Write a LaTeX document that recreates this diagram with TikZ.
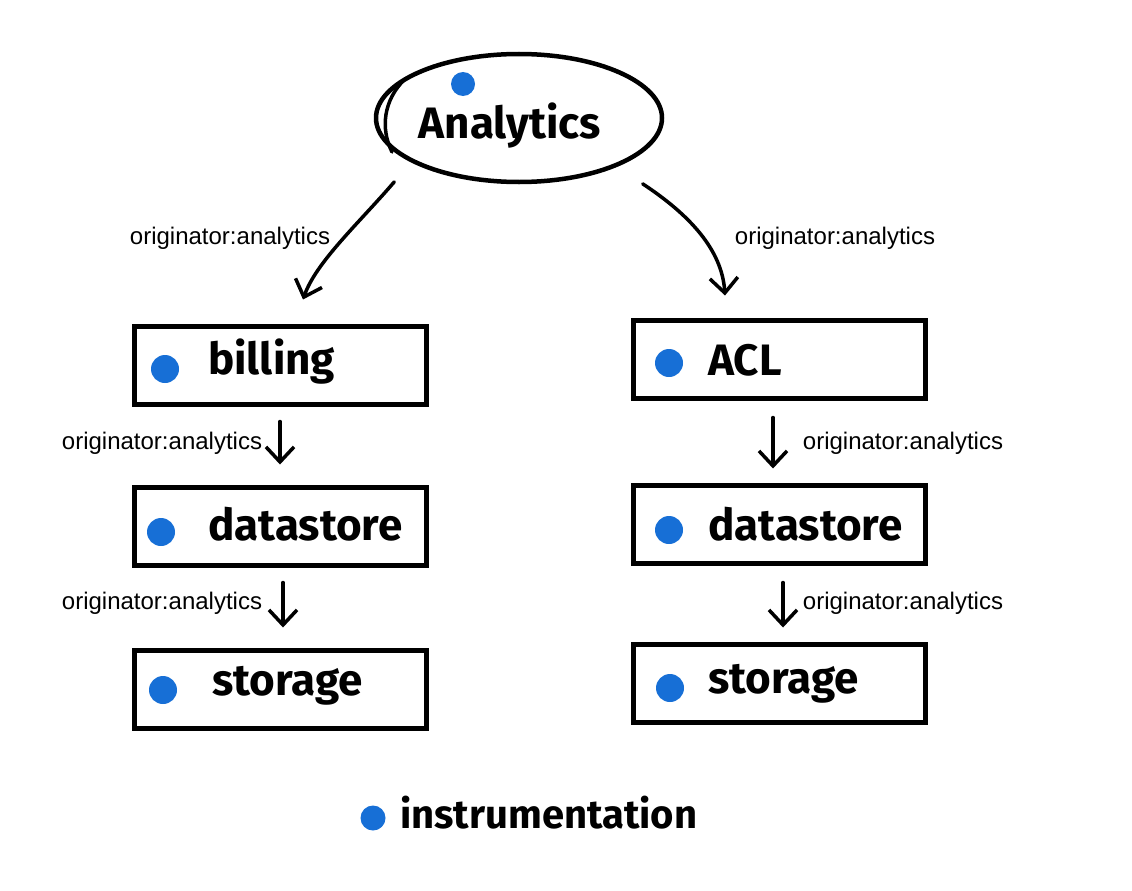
\documentclass[tikz,border=0pt]{standalone}
\usepackage{fontspec}
\setmainfont{Liberation Sans}
\newfontfamily\handfont{Fira Sans}
\usetikzlibrary{arrows.meta,shapes.geometric}
\definecolor{dotblue}{RGB}{23,111,214}
\tikzset{
  procbox/.style={draw=black, line width=5pt, minimum width=292pt, minimum height=78pt, inner sep=0pt},
  hand/.style={font=\handfont\bfseries\fontsize{44}{50}\selectfont, anchor=west, inner sep=0pt},
  lbl/.style={font=\fontsize{24}{28}\selectfont, inner sep=0pt},
  bluedot/.style={circle, fill=dotblue, minimum size=28pt, inner sep=0pt},
  arr/.style={line width=3.5pt, line cap=round, -{Straight Barb[length=15pt,width=28pt,line width=3.5pt]}},
}
\begin{document}
\begin{tikzpicture}[x=1pt,y=-1pt]
\useasboundingbox (0,0) rectangle (1132,891);
% Analytics ellipse
\node[ellipse, draw=black, line width=4.5pt, minimum width=286pt, minimum height=128pt, inner sep=0pt] (A) at (519,118) {};
\draw[line width=3.5pt, line cap=round] (392,152) .. controls (380,128) and (384,100) .. (404,80);
\node[bluedot, minimum size=24pt] (Adot) at (463,84) {};
\node[hand, anchor=center] (Atxt) at (510,126) {Analytics};

% left column boxes
\node[procbox] (b1) at (280,365) {};
\node[procbox] (b2) at (280,526) {};
\node[procbox] (b3) at (280,689) {};
% right column boxes
\node[procbox] (r1) at (779,359) {};
\node[procbox] (r2) at (779,524) {};
\node[procbox] (r3) at (779,683) {};

% dots
\node[bluedot] (d1) at (165,369) {};
\node[bluedot] (d2) at (161,532) {};
\node[bluedot] (d3) at (163,690) {};
\node[bluedot] (e1) at (669,363) {};
\node[bluedot] (e2) at (669,530) {};
\node[bluedot] (e3) at (670,688) {};

% box texts
\node[hand] (t1) at (208,362) {billing};
\node[hand] (t2) at (208,524) {datastore};
\node[hand] (t3) at (212,686) {storage};
\node[hand] (u1) at (708,360) {ACL};
\node[hand] (u2) at (708,524) {datastore};
\node[hand] (u3) at (708,684) {storage};

% curved arrows
\draw[arr] ([shift={(-22,17)}]A.south west) .. controls (360,222) and (316,262) .. ([shift={(23,-24)}]b1.north);
\draw[arr] ([shift={(21,19)}]A.south east) .. controls (690,215) and (722,250) .. ([shift={(-54,-22)}]r1.north);

% straight arrows
\draw[arr] ([shift={(0,15)}]b1.south) -- ([shift={(0,-20)}]b2.north);
\draw[arr] ([shift={(3,15)}]b2.south) -- ([shift={(3,-20)}]b3.north);
\draw[arr] ([shift={(-6,17)}]r1.south) -- ([shift={(-6,-14)}]r2.north);
\draw[arr] ([shift={(4,17)}]r2.south) -- ([shift={(4,-14)}]r3.north);

% labels
\node[lbl] (l0) at (230,238) {originator:analytics};
\node[lbl] (l1) at (162,443) {originator:analytics};
\node[lbl] (l2) at (162,603) {originator:analytics};
\node[lbl] (m0) at (835,238) {originator:analytics};
\node[lbl] (m1) at (903,443) {originator:analytics};
\node[lbl] (m2) at (903,603) {originator:analytics};

% legend
\node[bluedot, minimum size=25pt] (legdot) at (373,818) {};
\node[hand, font=\handfont\bfseries\fontsize{40}{46}\selectfont] (legtxt) at (400,813) {instrumentation};
\end{tikzpicture}
\end{document}
